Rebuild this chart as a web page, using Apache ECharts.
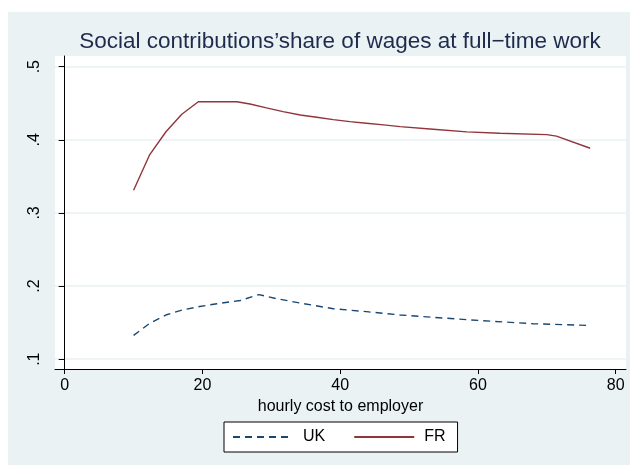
<!DOCTYPE html>
<html>
<head>
<meta charset="utf-8">
<script src="https://cdn.jsdelivr.net/npm/echarts@6/dist/echarts.min.js"></script>
<style>
  html, body { margin: 0; padding: 0; background: #ffffff; }
  #chart { position: absolute; left: 8px; top: 12px; width: 622px; height: 453px; background: #eaf2f3; }
</style>
</head>
<body>
<div id="chart"></div>
<script>
// Hourly cost to employer (x) and social contributions' share of wages (y)
const ukCost  = [10, 12.4, 14.8, 17.2, 19.6, 22.1, 25.5, 28.2, 30.8, 34.2, 39.0, 43.8, 48.7, 58.4, 68.0, 76.1];
const ukShare = [0.1325, 0.1495, 0.1608, 0.1676, 0.1721, 0.1758, 0.1803, 0.1883, 0.1827, 0.1768, 0.1690, 0.1650, 0.1605, 0.1540, 0.1485, 0.1462];

const frCost  = [10, 12.3, 14.7, 17.0, 19.4, 21.2, 23.0, 25.0, 26.9, 29.3, 31.7, 34.2, 36.6, 39.0, 41.4, 43.8, 46.3, 48.7, 53.5, 58.4, 63.2, 70.0, 71.4, 76.3];
const frShare = [0.331, 0.379, 0.411, 0.435, 0.452, 0.452, 0.452, 0.452, 0.449, 0.4436, 0.4385, 0.434, 0.4309, 0.4276, 0.4249, 0.4227, 0.4204, 0.418, 0.4145, 0.4108, 0.409, 0.4071, 0.405, 0.3885];

const xTicks = [0, 20, 40, 60, 80];
const yTicks = [0.1, 0.2, 0.3, 0.4, 0.5];

const FONT = '"Liberation Sans", Arial, Helvetica, sans-serif';
const pairs = (xs, ys) => xs.map((x, i) => [x, ys[i]]);

const chart = echarts.init(document.getElementById('chart'), null, { renderer: 'canvas' });
chart.setOption({
  backgroundColor: '#eaf2f3',
  animation: false,
  title: {
    text: 'Social contributions\u2019share of wages at full\u2212time work',
    left: 327,
    textAlign: 'center',
    top: 13,
    textStyle: { fontFamily: FONT, fontSize: 22.5, fontWeight: 'normal', color: '#1e2b4d' }
  },
  grid: {
    left: 47, right: 4, top: 44, bottom: 96,
    show: true, backgroundColor: '#ffffff', borderWidth: 0,
    outerBoundsMode: 'none'
  },
  legend: {
    left: 216, top: 410,
    orient: 'horizontal',
    padding: [7, 12, 7, 8],
    itemGap: 28,
    itemWidth: 60,
    itemHeight: 14,
    borderColor: '#000000',
    borderWidth: 1,
    backgroundColor: '#ffffff',
    borderRadius: 0,
    itemStyle: { opacity: 0 },
    textStyle: { fontFamily: FONT, fontSize: 16, color: '#000000', padding: [0, 0, 0, 5] },
    data: ['UK', 'FR']
  },
  xAxis: {
    type: 'value',
    min: -1.41, max: 81.5,
    name: 'hourly cost to employer',
    nameLocation: 'middle',
    nameGap: 27,
    nameTextStyle: { fontFamily: FONT, fontSize: 16, color: '#000000' },
    axisLine: { show: true, lineStyle: { color: '#000000', width: 1 } },
    axisTick: { show: true, length: 5, lineStyle: { color: '#000000' }, customValues: xTicks },
    axisLabel: { fontFamily: FONT, fontSize: 16, color: '#000000', margin: 9, customValues: xTicks },
    splitLine: { show: false }
  },
  yAxis: {
    type: 'value',
    min: 0.0866, max: 0.5146,
    axisLine: { show: true, lineStyle: { color: '#000000', width: 1 } },
    axisTick: { show: true, length: 6, lineStyle: { color: '#000000' }, customValues: yTicks },
    axisLabel: {
      fontFamily: FONT, fontSize: 16, color: '#000000', margin: 12, rotate: 90,
      customValues: yTicks,
      formatter: v => v.toFixed(1).replace(/^0/, '')
    },
    splitLine: { show: true, lineStyle: { color: '#eaf2f3', width: 1.5 } }
  },
  series: [
    {
      name: 'UK', type: 'line', symbol: 'none',
      data: pairs(ukCost, ukShare),
      lineStyle: { color: '#1a476f', width: 1.4, type: [7, 5] },
      itemStyle: { color: '#1a476f' }
    },
    {
      name: 'FR', type: 'line', symbol: 'none',
      data: pairs(frCost, frShare),
      lineStyle: { color: '#90353b', width: 1.4 },
      itemStyle: { color: '#90353b' }
    }
  ]
});
</script>
</body>
</html>
